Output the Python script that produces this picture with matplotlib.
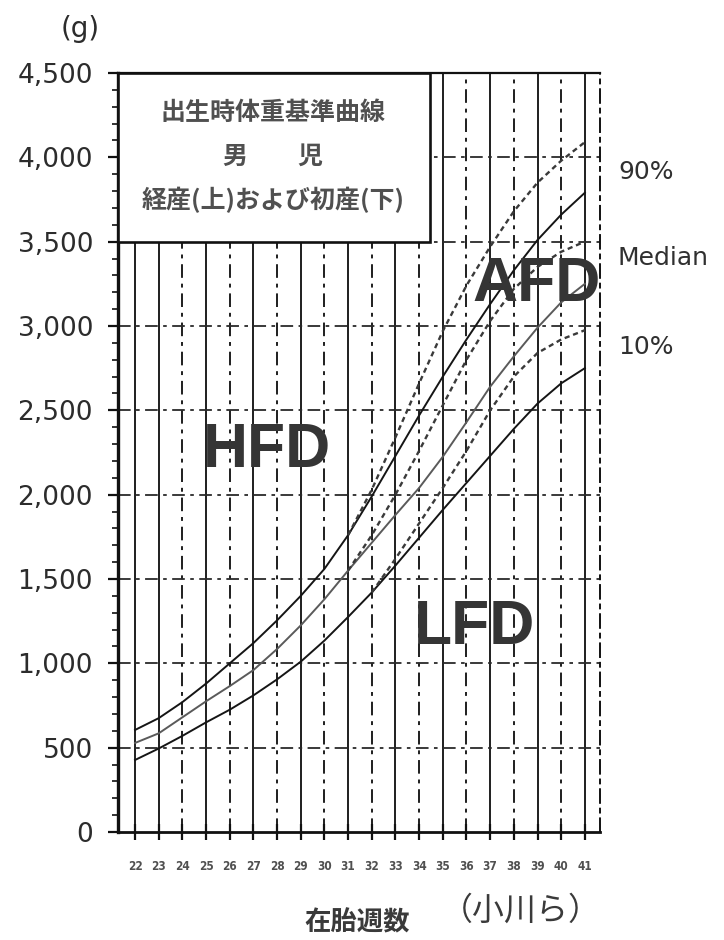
from __future__ import annotations

import matplotlib

matplotlib.use("Agg")
import matplotlib.pyplot as plt
from matplotlib.patches import Rectangle
from matplotlib.ticker import FuncFormatter, MultipleLocator

# gestational weeks and birth weight (g)
weeks = list(range(22, 42))

# 初産 (lower) curves run the full range; 経産 (upper) branch off later
p90_primi = [605, 675, 770, 880, 1000, 1120, 1255, 1400, 1560, 1760,
             1990, 2230, 2470, 2700, 2920, 3130, 3330, 3510, 3660, 3790]
med_primi = [528, 585, 680, 775, 865, 960, 1085, 1225, 1380, 1550,
             1715, 1880, 2040, 2225, 2430, 2640, 2820, 2990, 3140, 3250]
p10_primi = [427, 495, 570, 650, 725, 810, 905, 1010, 1135, 1275,
             1420, 1580, 1745, 1910, 2070, 2230, 2390, 2540, 2660, 2750]

p90_multi_weeks = list(range(31, 42))
p90_multi = [1760, 2030, 2340, 2660, 2970, 3240, 3470, 3680, 3850, 3980, 4090]
med_multi_weeks = list(range(31, 42))
med_multi = [1550, 1760, 2000, 2260, 2530, 2800, 3030, 3220, 3350, 3440, 3500]
p10_multi_weeks = list(range(32, 42))
p10_multi = [1420, 1620, 1830, 2040, 2260, 2500, 2700, 2840, 2920, 2975]

y_ticks = list(range(0, 4501, 500))
right_labels = ["90%", "Median", "10%"]
box_lines = ["出生時体重基準曲線", "男\u3000\u3000児", "経産(上)および初産(下)"]
region_labels = ["AFD", "HFD", "LFD"]

CJK = "Noto Sans CJK JP"
DASH_DOT = (0, (7, 3, 2, 3))


def draw_grid(ax: plt.Axes) -> None:
    for week in weeks:
        style = "-" if week == 22 or week % 2 == 1 else DASH_DOT
        ax.axvline(week, color="#1e1e1e", lw=1.4, ls=style, zorder=1)
    for value in y_ticks[1:-1]:
        ax.axhline(value, color="#2a2a2a", lw=1.3, ls=DASH_DOT, zorder=1)


def draw_curves(ax: plt.Axes) -> None:
    solid = dict(color="#151515", lw=1.4, zorder=3)
    dashed = dict(color="#3a3a3a", lw=1.7, ls=(0, (2.2, 1.6)), zorder=3)
    ax.plot(weeks, p90_primi, **solid)
    ax.plot(weeks, med_primi, **{**solid, "color": "#5a5a5a"})
    ax.plot(weeks, p10_primi, **solid)
    ax.plot(p90_multi_weeks, p90_multi, **dashed)
    ax.plot(med_multi_weeks, med_multi, **dashed)
    ax.plot(p10_multi_weeks, p10_multi, **dashed)


def draw_title_box(ax: plt.Axes) -> None:
    box_bottom = 3500 / 4500
    ax.add_patch(
        Rectangle((0, box_bottom), 0.647, 1 - box_bottom, transform=ax.transAxes,
                  facecolor="white", edgecolor="#111111", lw=1.9, zorder=5)
    )
    for text, y in zip(box_lines, [0.947, 0.889, 0.833]):
        ax.text(0.3216, y, text, transform=ax.transAxes, ha="center", va="center",
                fontsize=18, fontweight="bold", color="#505050", family=CJK, zorder=6)


def main() -> None:
    plt.rcParams["font.family"] = ["DejaVu Sans", CJK]

    fig = plt.figure(figsize=(7.24, 9.4), dpi=100)
    ax = fig.add_axes([118 / 724, 108 / 940, 482 / 724, 759 / 940])

    ax.set_xlim(21.28, 41.64)
    ax.set_ylim(0, 4500)

    draw_grid(ax)
    draw_curves(ax)
    draw_title_box(ax)

    ax.set_xticks(weeks)
    ax.set_xticklabels([str(w) for w in weeks], fontsize=8.5, color="#505050",
                       fontstretch="condensed", fontweight="bold")
    ax.tick_params(axis="x", direction="inout", length=12, width=1.6, pad=14,
                   color="#111111")

    ax.set_yticks(y_ticks)
    ax.yaxis.set_major_formatter(FuncFormatter(lambda v, _: f"{int(v):,}"))
    ax.yaxis.set_minor_locator(MultipleLocator(100))
    ax.tick_params(axis="y", which="major", direction="out", length=7, width=1.6,
                   pad=11, labelsize=19, labelcolor="#2c2c2c", color="#111111")
    ax.tick_params(axis="y", which="minor", direction="out", length=4, width=1.2,
                   color="#111111")

    for side, lw in (("left", 2.4), ("bottom", 2.0), ("top", 1.6), ("right", 1.4)):
        ax.spines[side].set_linewidth(lw)
        ax.spines[side].set_color("#111111")
    ax.spines["right"].set_linestyle(DASH_DOT)

    # big region labels over the curves
    for text, (x, y) in zip(region_labels, [(0.869, 0.722), (0.309, 0.503), (0.739, 0.270)]):
        ax.text(x, y, text, transform=ax.transAxes, ha="center", va="center",
                fontsize=45, fontweight="bold", family="Liberation Sans",
                color="#353535", zorder=8)

    for text, y in zip(right_labels, [0.817, 0.7255, 0.631]):
        fig.text(618 / 724, y, text, ha="left", va="center", fontsize=18,
                 color="#303030")

    fig.text(80 / 724, 1 - 29 / 940, "(g)", ha="center", va="center",
             fontsize=20, color="#2c2c2c")
    fig.text(357 / 724, 1 - 923 / 940, "在胎週数", ha="center", va="center",
             fontsize=19, fontweight="bold", color="#3a3a3a", family=CJK)
    fig.text(521 / 724, 1 - 911 / 940, "（小川ら）", ha="center", va="center",
             fontsize=23, color="#3a3a3a", family=CJK)

    fig.savefig("out.png", dpi=100)
    plt.close(fig)


if __name__ == "__main__":
    main()
